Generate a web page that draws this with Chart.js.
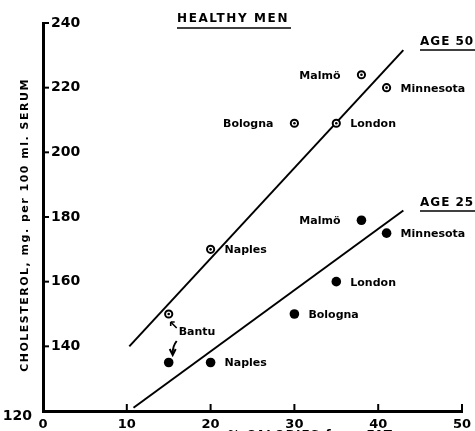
<!DOCTYPE html>
<html>
<head>
<meta charset="utf-8">
<script src="https://cdn.jsdelivr.net/npm/chart.js@4/dist/chart.umd.min.js"></script>
<style>
  body { margin: 0; background: #fff; }
  #wrap { width: 475px; height: 431px; }
</style>
</head>
<body>
<div id="wrap"><canvas id="chol"></canvas></div>
<script>
/* --------------- Data --------------------- */
const cities = ["Bantu", "Naples", "Bologna", "London", "Malmö", "Minnesota"];
const fat50 = [15, 20, 30, 35, 38, 41];
const chol50 = [150, 170, 209, 209, 224, 220];
const fat25 = [15, 20, 30, 35, 38, 41];
const chol25 = [135, 135, 150, 160, 179, 175];

// fitted lines, end points
const line50X = [10.3, 43];
const line50Y = [140, 231.6];
const line25X = [10.8, 43];
const line25Y = [121, 182];

const xTicks = [0, 10, 20, 30, 40, 50];
const yTicks = [120, 140, 160, 180, 200, 220, 240];

/* --------------- Label sides --------------------- */
const side50 = ["none", "right", "left", "right", "left", "right"];
const side25 = ["none", "right", "right", "right", "left", "right"];

const FONT = "'DejaVu Sans', sans-serif";
const pts = (xs, ys) => xs.map((x, i) => ({ x: x, y: ys[i] }));

/* --------------- Annotations --------------------- */
const annot = {
  id: "annot",
  afterDatasetsDraw(chart) {
    const ctx = chart.ctx;
    const sx = chart.scales.x, sy = chart.scales.y;
    const area = chart.chartArea;
    ctx.save();
    ctx.fillStyle = "#000";
    ctx.strokeStyle = "#000";

    // inner tick marks
    ctx.lineWidth = 2;
    yTicks.forEach(v => {
      if (v === 120) return;
      const y = sy.getPixelForValue(v);
      ctx.beginPath(); ctx.moveTo(area.left, y); ctx.lineTo(area.left + 6, y); ctx.stroke();
    });
    xTicks.forEach(v => {
      if (v === 0) return;
      const x = sx.getPixelForValue(v);
      ctx.beginPath(); ctx.moveTo(x, area.bottom); ctx.lineTo(x, area.bottom - 7); ctx.stroke();
    });

    // lonely 120 on the outside
    ctx.font = "bold 14px " + FONT;
    ctx.textAlign = "right";
    ctx.textBaseline = "middle";
    ctx.fillText("120", 32, sy.getPixelForValue(120) + 5);

    // city labels
    ctx.font = "bold 11px " + FONT;
    const put = (xs, ys, sides) => {
      xs.forEach((v, i) => {
        const px = sx.getPixelForValue(v), py = sy.getPixelForValue(ys[i]);
        if (sides[i] === "right") { ctx.textAlign = "left"; ctx.fillText(cities[i], px + 14, py + 1); }
        if (sides[i] === "left") { ctx.textAlign = "right"; ctx.fillText(cities[i], px - 21, py + 1); }
      });
    };
    put(fat50, chol50, side50);
    put(fat25, chol25, side25);

    // Bantu with its two arrows
    const bx = sx.getPixelForValue(fat50[0]), by = sy.getPixelForValue(chol50[0]);
    ctx.textAlign = "left";
    ctx.fillText(cities[0], bx + 10, by + 18);
    ctx.lineWidth = 1.6;
    ctx.beginPath(); ctx.moveTo(bx + 8, by + 14); ctx.lineTo(bx + 2, by + 8); ctx.stroke();
    ctx.beginPath(); ctx.moveTo(bx + 2, by + 8); ctx.lineTo(bx + 2, by + 12);
    ctx.moveTo(bx + 2, by + 8); ctx.lineTo(bx + 6, by + 8); ctx.stroke();
    ctx.lineWidth = 2;
    ctx.beginPath(); ctx.moveTo(bx + 8, by + 27);
    ctx.quadraticCurveTo(bx + 4, by + 32, bx + 4, by + 39); ctx.stroke();
    ctx.beginPath(); ctx.moveTo(bx + 1, by + 35); ctx.lineTo(bx + 4, by + 41); ctx.lineTo(bx + 7, by + 35); ctx.stroke();

    // headings
    ctx.textAlign = "left";
    ctx.textBaseline = "middle";
    ctx.font = "bold 12px " + FONT;
    ctx.letterSpacing = "1.6px";
    ctx.fillText("HEALTHY MEN", 177, 19);
    ctx.lineWidth = 1.5;
    ctx.beginPath(); ctx.moveTo(177, 28); ctx.lineTo(291, 28); ctx.stroke();

    ctx.font = "bold 12px " + FONT;
    ctx.letterSpacing = "1px";
    ctx.fillText("AGE 50", 420, 42);
    ctx.beginPath(); ctx.moveTo(420, 50); ctx.lineTo(475, 50); ctx.stroke();
    ctx.fillText("AGE 25", 420, 203);
    ctx.beginPath(); ctx.moveTo(420, 211); ctx.lineTo(475, 211); ctx.stroke();

    // x title, mostly cut off by the bottom edge
    ctx.textBaseline = "top";
    ctx.fillText("% CALORIES from FAT", 228, 430);

    // y title
    ctx.translate(25, 225);
    ctx.rotate(-Math.PI / 2);
    ctx.textAlign = "center";
    ctx.textBaseline = "middle";
    ctx.font = "bold 11px " + FONT;
    ctx.letterSpacing = "1.5px";
    ctx.fillText("CHOLESTEROL, mg. per 100 ml. SERUM", 0, 0);
    ctx.restore();
  }
};

/* --------------- Chart --------------------- */
new Chart(document.getElementById("chol"), {
  type: "scatter",
  plugins: [annot],
  data: {
    datasets: [
      {
        type: "line",
        order: 3,
        data: pts(line50X, line50Y),
        borderColor: "#000",
        borderWidth: 2,
        pointRadius: 0,
        fill: false,
      },
      {
        type: "line",
        order: 3,
        data: pts(line25X, line25Y),
        borderColor: "#000",
        borderWidth: 2,
        pointRadius: 0,
        fill: false,
      },
      {
        order: 2,
        data: pts(fat50, chol50),
        pointRadius: 3.6,
        pointBackgroundColor: "#fff",
        pointBorderColor: "#000",
        pointBorderWidth: 2,
      },
      {
        order: 1,
        data: pts(fat50, chol50),
        pointRadius: 1.3,
        pointBackgroundColor: "#000",
        pointBorderWidth: 0,
      },
      {
        order: 1,
        data: pts(fat25, chol25),
        pointRadius: 4.8,
        pointBackgroundColor: "#000",
        pointBorderWidth: 0,
      },
    ],
  },
  options: {
    responsive: true,
    maintainAspectRatio: false,
    animation: false,
    layout: { padding: { top: 23, right: 13, left: 0, bottom: 0 } },
    plugins: {
      legend: { display: false },
      tooltip: { enabled: false },
    },
    scales: {
      x: {
        type: "linear",
        min: 0,
        max: 50,
        afterBuildTicks: s => { s.ticks = xTicks.map(v => ({ value: v })); },
        afterFit: s => { s.height = 20; },
        border: { display: true, width: 3, color: "#000" },
        grid: { display: false },
        ticks: {
          color: "#000",
          padding: -2,
          maxRotation: 0,
          autoSkip: false,
          font: { family: FONT, weight: "bold", size: 13 },
        },
      },
      y: {
        min: 120,
        max: 240,
        afterBuildTicks: s => { s.ticks = yTicks.map(v => ({ value: v })); },
        afterFit: s => { s.width = 43; },
        border: { display: true, width: 3, color: "#000" },
        grid: { display: false },
        ticks: {
          mirror: true,
          padding: 8,
          color: "#000",
          callback: v => (v === 120 ? "" : v),
          font: { family: FONT, weight: "bold", size: 14 },
        },
      },
    },
  },
});
</script>
</body>
</html>
